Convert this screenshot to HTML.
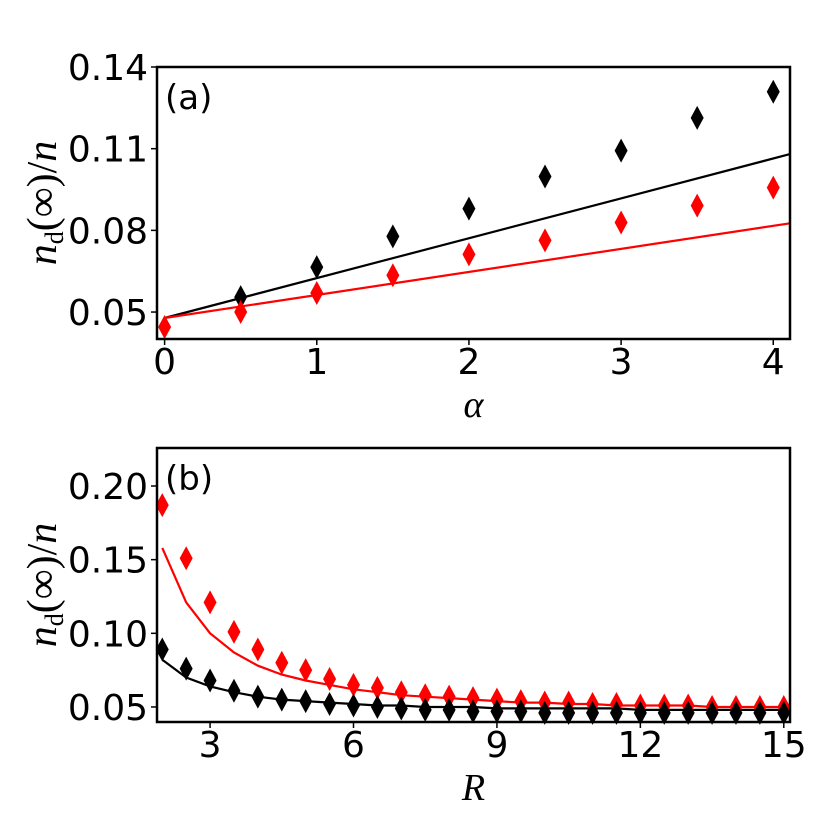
<!DOCTYPE html>
<html><head><meta charset="utf-8"><style>
html,body{margin:0;padding:0;background:#fff;}
svg{display:block;}
.tick{font-family:"DejaVu Sans","Liberation Sans",sans-serif;font-size:36px;fill:#000;}
.lab{font-family:"Liberation Serif","DejaVu Serif",serif;font-style:italic;font-size:38px;fill:#000;}
.ylab{font-family:"Liberation Serif","DejaVu Serif",serif;font-style:italic;font-size:42px;fill:#000;}
.pl{font-family:"DejaVu Sans","Liberation Sans",sans-serif;font-size:34px;fill:#000;}
</style></head><body>
<svg id="chart" width="830" height="830" xmlns="http://www.w3.org/2000/svg">
<g id="pa"></g>
<g id="pb"></g>
</svg>
<script>
// Panel (a) data
const alphaCats = [0, 0.5, 1, 1.5, 2, 2.5, 3, 3.5, 4];
const aBlackPts = [null, 0.0555, 0.0665, 0.0778, 0.088, 0.0998, 0.1093, 0.1213, 0.1309];
const aRedPts = [0.0445, 0.050, 0.057, 0.0635, 0.0712, 0.0763, 0.0829, 0.0891, 0.0957];
const aLineX = [0, 4.11];
const aBlackLine = [0.0478, 0.108];
const aRedLine = [0.0478, 0.0826];
const aXTicks = [0, 1, 2, 3, 4];
const aYTicks = [0.05, 0.08, 0.11, 0.14];
const aYTickLabels = ["0.05", "0.08", "0.11", "0.14"];
// Panel (b) data
const rCats = [2,2.5,3,3.5,4,4.5,5,5.5,6,6.5,7,7.5,8,8.5,9,9.5,10,10.5,11,11.5,12,12.5,13,13.5,14,14.5,15];
const bRedPts = [0.187,0.151,0.121,0.101,0.089,0.080,0.075,0.069,0.065,0.063,0.060,0.058,0.057,0.056,0.055,0.054,0.053,0.053,0.052,0.052,0.051,0.051,0.051,0.050,0.050,0.050,0.050];
const bBlackPts = [0.089,0.076,0.068,0.061,0.057,0.055,0.054,0.052,0.051,0.050,0.049,0.048,0.048,0.047,0.047,0.047,0.046,0.046,0.046,0.046,0.046,0.046,0.046,0.046,0.046,0.046,0.046];
const bRedLine = [0.158,0.121,0.100,0.087,0.078,0.072,0.068,0.065,0.062,0.060,0.058,0.057,0.056,0.055,0.054,0.053,0.053,0.052,0.052,0.051,0.051,0.051,0.051,0.050,0.050,0.050,0.050];
const bBlackLine = [0.082,0.070,0.064,0.060,0.057,0.055,0.054,0.053,0.052,0.051,0.051,0.050,0.050,0.050,0.049,0.049,0.049,0.049,0.049,0.049,0.048,0.048,0.048,0.048,0.048,0.048,0.048];
const bXTicks = [3, 6, 9, 12, 15];
const bYTicks = [0.05, 0.10, 0.15, 0.20];
const bYTickLabels = ["0.05", "0.10", "0.15", "0.20"];

const NS = "http://www.w3.org/2000/svg";
function mk(parent, tag, attrs){const e=document.createElementNS(NS,tag);for(const k in attrs)e.setAttribute(k,attrs[k]);parent.appendChild(e);return e;}

function panel(g, box, xd, yd, opts){
  const sx = v => box.l + (v - xd[0]) / (xd[1] - xd[0]) * (box.r - box.l);
  const sy = v => box.b - (v - yd[0]) / (yd[1] - yd[0]) * (box.b - box.t);
  opts.lines.forEach(L => {
    const pts = L.x.map((x,i)=>sx(x).toFixed(1)+","+sy(L.y[i]).toFixed(1)).join(" ");
    const p = mk(g,"polyline",{points:pts,fill:"none",stroke:L.c,"stroke-width":2.2});
    
    
  });
  opts.pts.forEach(S => {
    S.y.forEach((v,i)=>{
      if(v===null) return;
      const x=sx(S.x[i]), y=sy(v);
      const d = mk(g,"polygon",{points:`${x},${y-12} ${x+6.5},${y} ${x},${y+12} ${x-6.5},${y}`,fill:S.c});
      
      
    });
  });
  const f = mk(g,"rect",{x:box.l,y:box.t,width:box.r-box.l,height:box.b-box.t,fill:"none",stroke:"#000","stroke-width":2.5});
  
  
  opts.xt.forEach(v=>{
    const x=sx(v);
    mk(g,"line",{x1:x,y1:box.b,x2:x,y2:box.b+6,stroke:"#000","stroke-width":1.5});
    const t=mk(g,"text",{x:x,y:box.b+35,"text-anchor":"middle",class:"tick"});t.textContent=String(v);
    
    
  });
  opts.yt.forEach((v,i)=>{
    const y=sy(v);
    mk(g,"line",{x1:box.l-6,y1:y,x2:box.l,y2:y,stroke:"#000","stroke-width":1.5});
    const t=mk(g,"text",{x:box.l-9,y:y+13,"text-anchor":"end",class:"tick"});t.textContent=opts.ytl[i];
    
    
  });
  const pl=mk(g,"text",{x:box.l+8,y:box.t+42,class:"pl"});pl.textContent=opts.label;
  
  
  const xl=mk(g,"text",{x:(box.l+box.r)/2,y:box.b+78,"text-anchor":"middle",class:"lab"});xl.textContent=opts.xlabel;
  
  
  const cy=(box.t+box.b)/2;
  const yl=mk(g,"text",{x:0,y:0,"text-anchor":"middle",class:"ylab",transform:`translate(56,${cy}) rotate(-90)`});
  yl.innerHTML='n<tspan font-size="26" dy="7" font-style="normal">d</tspan><tspan dy="-7" font-style="normal">(∞)/</tspan>n';
  
  
}

panel(document.getElementById("pa"), {l:157,r:790,t:67,b:339}, [-0.05,4.11], [0.0401,0.14], {
  lines:[{x:aLineX,y:aBlackLine,c:"#000",name:"black-fit-line"},{x:aLineX,y:aRedLine,c:"#f00",name:"red-fit-line"}],
  pts:[{x:alphaCats,y:aBlackPts,c:"#000",name:"black-marker"},{x:alphaCats,y:aRedPts,c:"#f00",name:"red-marker"}],
  xt:aXTicks, yt:aYTicks, ytl:aYTickLabels, label:"(a)", xlabel:"α"
});
panel(document.getElementById("pb"), {l:157,r:790,t:448,b:722}, [1.89,15.13], [0.0398,0.2258], {
  lines:[{x:rCats,y:bRedLine,c:"#f00",name:"red-fit-line"},{x:rCats,y:bBlackLine,c:"#000",name:"black-fit-line"}],
  pts:[{x:rCats,y:bRedPts,c:"#f00",name:"red-marker"},{x:rCats,y:bBlackPts,c:"#000",name:"black-marker"}],
  xt:bXTicks, yt:bYTicks, ytl:bYTickLabels, label:"(b)", xlabel:"R"
});
</script>
</body></html>
